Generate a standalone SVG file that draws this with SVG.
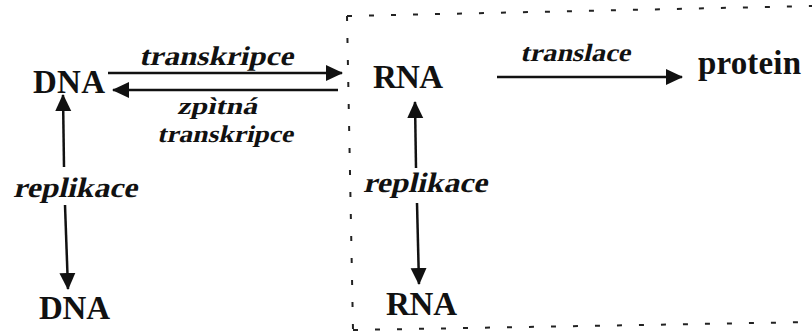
<svg xmlns="http://www.w3.org/2000/svg" width="812" height="334" viewBox="0 0 812 334">
<style>
.node{font-family:"Liberation Serif","Times New Roman",serif;font-weight:bold;font-size:33px;fill:#111}
.lbl{font-family:"Liberation Serif","Times New Roman",serif;font-weight:bold;fill:#111}
.edge{stroke:#111;stroke-width:2.5;fill:none}
.box{stroke:#222;stroke-width:2;fill:none;stroke-dasharray:5 17}
</style>
<defs>
<marker id="ah" viewBox="0 0 17 17" refX="16" refY="8.5" markerWidth="17" markerHeight="17" markerUnits="userSpaceOnUse" orient="auto">
<path d="M0,0.5 L17,8.5 L0,16.5 Z" fill="#111"/>
</marker>
</defs>
<rect width="812" height="334" fill="#fff"/>
<g id="box">
<path class="box" d="M347,16 L812,6"/>
<path class="box" d="M347,16 L353,330"/>
<path class="box" d="M353,330 L812,322"/>
</g>
<g id="connectors">
<line class="edge" x1="108" y1="73" x2="342" y2="73" marker-end="url(#ah)"/>
<line class="edge" x1="338" y1="90" x2="113" y2="90" marker-end="url(#ah)"/>
<line class="edge" x1="497" y1="77" x2="682" y2="77" marker-end="url(#ah)"/>
<line class="edge" x1="64" y1="167" x2="63" y2="95" marker-end="url(#ah)"/>
<line class="edge" x1="65" y1="205" x2="68" y2="289" marker-end="url(#ah)"/>
<line class="edge" x1="416" y1="168" x2="415" y2="102" marker-end="url(#ah)"/>
<line class="edge" x1="417" y1="203" x2="419" y2="284" marker-end="url(#ah)"/>
</g>
<g id="dna-top"><text class="node" x="33" y="93" textLength="72">DNA</text></g>
<g id="rna-top"><text class="node" x="373" y="88" textLength="70">RNA</text></g>
<g id="protein"><text class="node" x="698" y="74" textLength="103">protein</text></g>
<g id="dna-bottom"><text class="node" x="39" y="319" textLength="71">DNA</text></g>
<g id="rna-bottom"><text class="node" x="386" y="315" textLength="71">RNA</text></g>
<g id="labels">
<g transform="translate(139,65) skewX(-13)"><text class="lbl" x="0" y="0" font-size="27" textLength="154" lengthAdjust="spacingAndGlyphs">transkripce</text></g>
<g transform="translate(177,114) skewX(-13)"><text class="lbl" x="0" y="0" font-size="24" textLength="80" lengthAdjust="spacingAndGlyphs">zpìtná</text></g>
<g transform="translate(157,142) skewX(-13)"><text class="lbl" x="0" y="0" font-size="24" textLength="136" lengthAdjust="spacingAndGlyphs">transkripce</text></g>
<g transform="translate(520,61) skewX(-13)"><text class="lbl" x="0" y="0" font-size="25" textLength="110" lengthAdjust="spacingAndGlyphs">translace</text></g>
<g transform="translate(13,197) skewX(-13)"><text class="lbl" x="0" y="0" font-size="28" textLength="124" lengthAdjust="spacingAndGlyphs">replikace</text></g>
<g transform="translate(363,192) skewX(-13)"><text class="lbl" x="0" y="0" font-size="28" textLength="124" lengthAdjust="spacingAndGlyphs">replikace</text></g>
</g>
</svg>
